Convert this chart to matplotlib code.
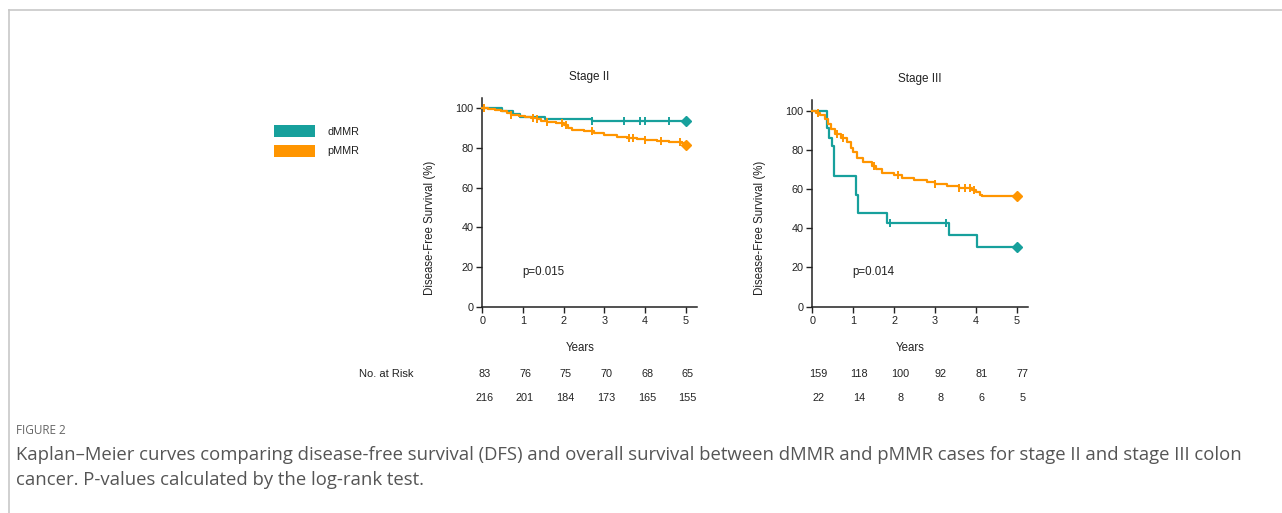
import matplotlib
matplotlib.use("Agg")
import matplotlib.pyplot as plt
from matplotlib.patches import Patch
from matplotlib.lines import Line2D
import matplotlib.transforms as mtransforms

TEAL = "#17a09c"
ORANGE = "#ff9500"

# Stage II, step points (years, survival %)
s2_dmmr_t = [0.0, 0.48, 0.76, 0.93, 1.55, 2.69, 5.0]
s2_dmmr_s = [100, 98.8, 97.0, 95.8, 94.8, 93.6, 93.6]
s2_dmmr_cens_t = [2.69, 3.48, 3.88, 4.0, 4.59]
s2_pmmr_t = [0.0, 0.15, 0.3, 0.45, 0.6, 0.7, 0.9, 1.05, 1.2, 1.35, 1.45, 1.6, 1.8,
             2.0, 2.1, 2.2, 2.5, 2.75, 3.0, 3.3, 3.55, 3.8, 4.0, 4.3, 4.6, 4.9, 5.0]
s2_pmmr_s = [100, 99.5, 99, 98.5, 97.5, 96.5, 96, 95.5, 95, 94.5, 93.5, 93, 92.5,
             91.5, 90, 89, 88.5, 87.5, 86.5, 85.5, 85, 84.5, 84, 83.5, 83.2, 82.5, 81.5]
s2_pmmr_cens_t = [0.05, 0.7, 1.25, 1.35, 1.6, 1.95, 2.05, 2.7, 3.6, 3.7, 4.0, 4.4, 4.85]

# Stage III
s3_dmmr_t = [0.0, 0.36, 0.42, 0.48, 0.52, 1.08, 1.12, 1.82, 3.35, 4.02, 5.0]
s3_dmmr_s = [100, 91, 86, 81.8, 66.7, 57, 47.6, 42.9, 36.7, 30.6, 30.6]
s3_dmmr_cens_t = [1.9, 3.28]
s3_pmmr_t = [0.0, 0.1, 0.2, 0.3, 0.38, 0.45, 0.55, 0.7, 0.85, 0.95, 1.0, 1.1, 1.25,
             1.45, 1.55, 1.7, 2.0, 2.2, 2.5, 2.8, 3.0, 3.3, 3.6, 3.9, 4.0, 4.1, 4.15, 5.0]
s3_pmmr_s = [100, 99, 97.5, 95.5, 93, 90.5, 88, 86, 84, 81, 79, 76, 74,
             72, 70, 68, 67, 65.5, 64.5, 63.5, 62.5, 61.5, 60.5, 59.5, 58.5, 57, 56.5, 56.5]
s3_pmmr_cens_t = [0.15, 0.6, 0.75, 1.5, 2.1, 3.0, 3.6, 3.75, 3.85, 3.95]

titles = ["Stage II", "Stage III"]
p_values = ["p=0.015", "p=0.014"]
years = [0, 1, 2, 3, 4, 5]
risk_stage2 = [[83, 76, 75, 70, 68, 65], [216, 201, 184, 173, 165, 155]]
risk_stage3 = [[159, 118, 100, 92, 81, 77], [22, 14, 8, 8, 6, 5]]

caption_head = "FIGURE 2"
caption_lines = [
    "Kaplan\u2013Meier curves comparing disease-free survival (DFS) and overall survival between dMMR and pMMR cases for stage II and stage III colon",
    "cancer. P-values calculated by the log-rank test.",
]

plt.rcParams["font.family"] = ["Liberation Sans", "DejaVu Sans"]

W, H = 1282, 513
INK = "#222222"
fig = plt.figure(figsize=(W / 100, H / 100), dpi=100)


def surv_at(ts, ss, t):
    val = ss[0]
    for ti, si in zip(ts, ss):
        if ti <= t:
            val = si
    return val


def draw_panel(ax, curves, title, pval, risk, xoff, xmax, ymax):
    for ts, ss, cens, col in curves:
        ax.step(ts, ss, where="post", color=col, lw=1.6, clip_on=False, zorder=3)
        ax.plot(cens, [surv_at(ts, ss, c) for c in cens], ls="none", marker="|",
                ms=6, mew=1.4, color=col, clip_on=False, zorder=4)
        ax.plot([ts[-1]], [ss[-1]], ls="none", marker="D", ms=5, color=col,
                clip_on=False, zorder=5)
    ax.set_xlim(0, xmax)
    ax.set_ylim(0, ymax)
    ax.set_xticks(years)
    ax.set_yticks([0, 20, 40, 60, 80, 100])
    for s in ["top", "right"]:
        ax.spines[s].set_visible(False)
    for s in ["left", "bottom"]:
        ax.spines[s].set_linewidth(1.1)
        ax.spines[s].set_color(INK)
    ax.tick_params(axis="both", labelsize=7.8, length=4.5, width=1.0, color=INK,
                   labelcolor=INK, pad=2)
    ax.set_title(title, fontsize=8.5, color=INK, pad=13)
    ax.set_ylabel("Disease-Free Survival (%)", fontsize=8.3, color=INK)
    ax.yaxis.set_label_coords(-0.215, 0.38)
    ax.text(0.456, -0.2, "Years", transform=ax.transAxes, ha="center", va="center",
            fontsize=8.3, color=INK)
    ax.text(0.98, 17.5, pval, fontsize=8.3, color=INK, ha="left", va="center")
    tr = mtransforms.blended_transform_factory(ax.transData, fig.transFigure)
    for row, ypix in zip(risk, [374, 398]):
        for yr, n in zip(years, row):
            ax.text(yr + xoff, 1 - ypix / H, str(n), transform=tr, ha="center",
                    va="center", fontsize=7.8, color=INK)


ax1 = fig.add_axes([482.3 / W, 1 - 306.7 / H, (696.7 - 482.3) / W, (306.7 - 98) / H])
draw_panel(ax1, [(s2_dmmr_t, s2_dmmr_s, s2_dmmr_cens_t, TEAL),
                 (s2_pmmr_t, s2_pmmr_s, s2_pmmr_cens_t, ORANGE)],
           titles[0], p_values[0], risk_stage2, 0.05, 5.27, 105.2)

ax2 = fig.add_axes([812.3 / W, 1 - 306.7 / H, (1028 - 812.3) / W, (306.7 - 100) / H])
draw_panel(ax2, [(s3_dmmr_t, s3_dmmr_s, s3_dmmr_cens_t, TEAL),
                 (s3_pmmr_t, s3_pmmr_s, s3_pmmr_cens_t, ORANGE)],
           titles[1], p_values[1], risk_stage3, 0.15, 5.28, 105.4)

fig.text(359 / W, 1 - 374 / H, "No. at Risk", ha="left", va="center", fontsize=8,
         color=INK)

handles = [Patch(facecolor=TEAL, edgecolor="none"), Patch(facecolor=ORANGE, edgecolor="none")]
fig.legend(handles, ["dMMR", "pMMR"], loc="upper left", bbox_to_anchor=(274 / W, 1 - 125 / H),
           frameon=False, fontsize=7.8, handlelength=3.8, handleheight=1.35,
           labelspacing=0.7, handletextpad=1.1, borderpad=0, borderaxespad=0,
           labelcolor=INK)

# page frame lines
fig.add_artist(Line2D([9 / W, 1], [1 - 10 / H, 1 - 10 / H], color="#c8c8c8", lw=1.2,
                      transform=fig.transFigure))
fig.add_artist(Line2D([9 / W, 9 / W], [0, 1 - 10 / H], color="#c8c8c8", lw=1.2,
                      transform=fig.transFigure))

fig.text(16 / W, 1 - 430 / H, caption_head, ha="left", va="center", fontsize=8.5,
         color="#666666", family="Open Sans")
for i, line in enumerate(caption_lines):
    fig.text(16 / W, 1 - (455 + 25 * i) / H, line, ha="left", va="center",
             fontsize=13.3, color="#555555", family="Open Sans")

fig.savefig("out.png", dpi=100, facecolor="white")
